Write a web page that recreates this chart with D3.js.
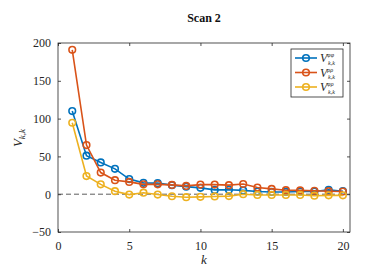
<!DOCTYPE html>
<html>
<head>
<meta charset="utf-8">
<script src="https://cdn.jsdelivr.net/npm/d3@7"></script>
<style>
  body { margin: 0; background: #fff; }
  svg text { font-family: "Liberation Serif", "Times New Roman", "DejaVu Serif", serif; }
</style>
</head>
<body>
<div id="chart"></div>
<script>
var ks = d3.range(1, 21);
var phiphi = [110, 51, 42, 33.5, 20, 15, 14.6, 12, 10, 8.4, 5.7, 5.8, 5, 3.5, 3, 3, 3.6, 3.6, 5.7, 4];
var rhorho = [191, 65, 28.6, 18.5, 16.3, 13, 13, 12.3, 11, 12.7, 12.7, 12, 13.5, 8.8, 7, 5.3, 5, 4.5, 4, 3.6];
var phirho = [94.5, 24, 13, 4, -0.5, 2, -0.5, -2.7, -4, -3.5, -3, -2.5, 0, -1, -1, -1, -1, -2, -1.5, -1.5];
var seriesNames = ["φφ", "ρρ", "φρ"];
var colors = ["#0072BD", "#D95319", "#EDB120"];
var xTicks = [0, 5, 10, 15, 20];
var yTicks = [-50, 0, 50, 100, 150, 200];

var width = 374, height = 280;
var plot = {left: 58, right: 350, top: 43, bottom: 232};
var serif = "'Liberation Serif', 'Times New Roman', serif";

var svg = d3.select("#chart").append("svg")
    .attr("width", width)
    .attr("height", height)
    .attr("font-family", serif);

var x = d3.scaleLinear().domain([0, 20.5]).range([plot.left, plot.right]);
var y = d3.scaleLinear().domain([-50, 200]).range([plot.bottom, plot.top]);

// axes box
svg.append("rect")
    .attr("x", plot.left).attr("y", plot.top)
    .attr("width", plot.right - plot.left).attr("height", plot.bottom - plot.top)
    .attr("fill", "none").attr("stroke", "#262626").attr("stroke-width", 0.8);

var tickLen = 3;
var gx = svg.append("g").attr("transform", "translate(0," + plot.bottom + ")")
    .call(d3.axisBottom(x).tickValues(xTicks).tickSize(-tickLen).tickPadding(9));
var gxt = svg.append("g").attr("transform", "translate(0," + plot.top + ")")
    .call(d3.axisTop(x).tickValues(xTicks).tickSize(-tickLen).tickFormat(""));
var gy = svg.append("g").attr("transform", "translate(" + plot.left + ",0)")
    .call(d3.axisLeft(y).tickValues(yTicks).tickSize(-tickLen).tickPadding(7));
var gyr = svg.append("g").attr("transform", "translate(" + plot.right + ",0)")
    .call(d3.axisRight(y).tickValues(yTicks).tickSize(-tickLen).tickFormat(""));

[gx, gxt, gy, gyr].forEach(function(g) {
    g.attr("font-family", serif).attr("font-size", 12);
    g.select(".domain").remove();
    g.selectAll(".tick line").attr("stroke", "#262626").attr("stroke-width", 0.8);
    g.selectAll("text").attr("fill", "#262626");
});

// zero line
svg.append("line")
    .attr("x1", plot.left).attr("x2", plot.right)
    .attr("y1", y(0)).attr("y2", y(0))
    .attr("stroke", "#333").attr("stroke-width", 0.8)
    .attr("stroke-dasharray", "5,3");

var allSeries = [phiphi, rhorho, phirho];
var line = d3.line()
    .x(function(d, i) { return x(ks[i]); })
    .y(function(d) { return y(d); });

allSeries.forEach(function(vals, si) {
    svg.append("path")
        .datum(vals)
        .attr("d", line)
        .attr("fill", "none")
        .attr("stroke", colors[si])
        .attr("stroke-width", 1.6);
    svg.selectAll(".pt" + si)
        .data(vals)
        .enter()
        .append("circle")
        .attr("cx", function(d, i) { return x(ks[i]); })
        .attr("cy", function(d) { return y(d); })
        .attr("r", 3.3)
        .attr("fill", "none")
        .attr("stroke", colors[si])
        .attr("stroke-width", 1.6);
});

// title
svg.append("text")
    .attr("x", 204).attr("y", 22)
    .attr("text-anchor", "middle")
    .attr("font-size", 12).attr("font-weight", "bold")
    .attr("fill", "#111")
    .text("Scan 2");

// x label
svg.append("text")
    .attr("x", 204).attr("y", 264)
    .attr("text-anchor", "middle")
    .attr("font-size", 13).attr("font-style", "italic")
    .attr("fill", "#262626")
    .text("k");

// y label
var yl = svg.append("text")
    .attr("transform", "translate(22,138) rotate(-90)")
    .attr("text-anchor", "middle")
    .attr("fill", "#262626");
yl.append("tspan").attr("font-size", 13).attr("font-style", "italic").text("V");
yl.append("tspan").attr("font-size", 9).attr("font-style", "italic").attr("dy", 3).text("k,k");

// legend
var lg = svg.append("g").attr("transform", "translate(291,49)");
lg.append("rect")
    .attr("width", 52).attr("height", 48)
    .attr("fill", "#fff").attr("stroke", "#262626").attr("stroke-width", 0.8);
seriesNames.forEach(function(name, i) {
    var cy = 9 + i * 14.5;
    var row = lg.append("g").attr("transform", "translate(0," + cy + ")");
    row.append("line")
        .attr("x1", 4).attr("x2", 26).attr("y1", 0).attr("y2", 0)
        .attr("stroke", colors[i]).attr("stroke-width", 1.6);
    row.append("circle")
        .attr("cx", 15).attr("cy", 0).attr("r", 3.3)
        .attr("fill", "none").attr("stroke", colors[i]).attr("stroke-width", 1.6);
    var t = row.append("text").attr("x", 29).attr("y", 4).attr("fill", "#262626");
    t.append("tspan").attr("font-size", 12).attr("font-style", "italic").text("V");
    t.append("tspan").attr("font-size", 6).attr("font-style", "italic").attr("dy", -5).text(name);
    t.append("tspan").attr("font-size", 6).attr("font-style", "italic")
        .attr("x", 37).attr("dy", 7.5).text("k,k");
});
</script>
</body>
</html>
